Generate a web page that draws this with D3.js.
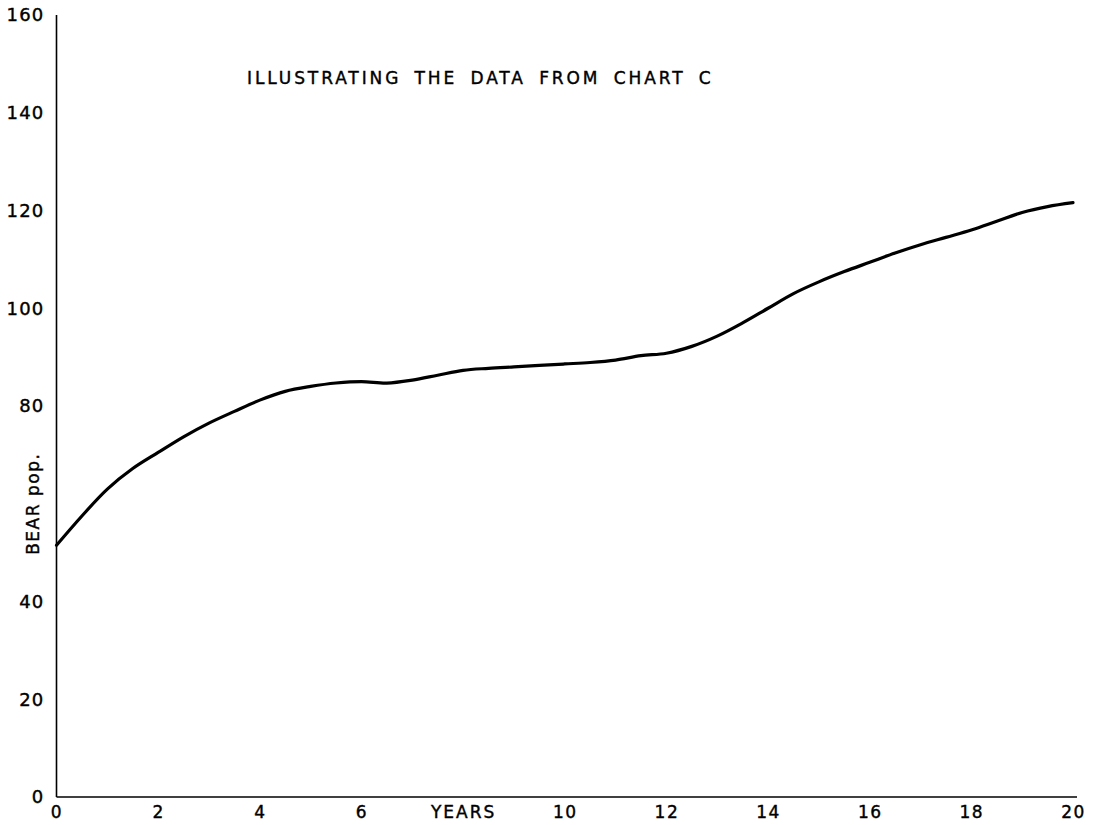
<!DOCTYPE html>
<html>
<head>
<meta charset="utf-8">
<script src="https://cdn.jsdelivr.net/npm/d3@7"></script>
<style>
  html, body { margin: 0; padding: 0; background: #fff; }
  svg { display: block; }
  text { font-family: "DejaVu Sans", sans-serif; fill: #000; stroke: #000; stroke-width: 0.4; }
</style>
</head>
<body>
<script>
// Data
const years = [0,0.5,1,1.5,2,2.5,3,3.5,4,4.5,5,5.5,6,6.5,7,7.5,8,8.5,9,9.5,10,10.5,11,11.5,12,12.5,13,13.5,14,14.5,15,15.5,16,16.5,17,17.5,18,18.5,19,19.5,20];
const bearPop = [51.5,57.5,63,67.2,70.5,73.7,76.5,78.9,81.2,83,84,84.7,85,84.7,85.3,86.3,87.3,87.7,88,88.3,88.6,88.9,89.4,90.3,90.8,92.2,94.3,97,100,103,105.4,107.5,109.4,111.3,113,114.5,116,117.8,119.6,120.8,121.6];
const xTicks = [0,2,4,6,8,10,12,14,16,18,20];
const yTicks = [0,20,40,60,80,100,120,140,160];
const title = "ILLUSTRATING THE DATA FROM CHART C";
const xTitle = "YEARS";
const yTitle = "BEAR pop.";

const W = 1099, H = 825;
const svg = d3.select("body").append("svg").attr("width", W).attr("height", H);

const x = d3.scaleLinear().domain([0, 20]).range([56.5, 1073]);
const y = d3.scaleLinear().domain([0, 160]).range([797, 15]);

// x axis
const xAxis = d3.axisBottom(x)
  .tickValues(xTicks)
  .tickSize(0).tickSizeOuter(0).tickPadding(9)
  .tickFormat(d => d === 8 ? xTitle : d3.format("d")(d));
const gx = svg.append("g").attr("transform", `translate(0,${y(0)})`).call(xAxis);
gx.select(".domain").remove();
gx.selectAll("text").attr("font-size", 17).attr("font-family", "DejaVu Sans")
  .attr("letter-spacing", d => d === 8 ? 2 : 1.5);

// y axis
const yAxis = d3.axisLeft(y)
  .tickValues(yTicks)
  .tickSize(0).tickSizeOuter(0).tickPadding(12)
  .tickFormat(d => d === 60 ? "" : d3.format("d")(d));
const gy = svg.append("g").attr("transform", `translate(${x(0)},0)`).call(yAxis);
gy.select(".domain").remove();
gy.selectAll("text").attr("font-size", 18).attr("font-family", "DejaVu Sans")
  .attr("letter-spacing", 1.2);

// axis lines
svg.append("line")
  .attr("x1", x(0)).attr("x2", x(0))
  .attr("y1", y(160)).attr("y2", y(0))
  .attr("stroke", "#000").attr("stroke-width", 1.6);
svg.append("line")
  .attr("x1", x(0)).attr("x2", x(20) + 4)
  .attr("y1", y(0)).attr("y2", y(0))
  .attr("stroke", "#000").attr("stroke-width", 1.6);

// y title (rotated, in place of the 60 label)
svg.append("text")
  .attr("transform", `translate(${x(0) - 24},${y(60)}) rotate(-90)`)
  .attr("text-anchor", "middle")
  .attr("dominant-baseline", "central")
  .attr("font-size", 17)
  .attr("letter-spacing", 1.5)
  .text(yTitle);

// chart title
svg.append("text")
  .attr("x", 247).attr("y", 84)
  .attr("font-size", 17)
  .attr("letter-spacing", 2.9)
  .attr("word-spacing", 5)
  .text(title);

// curve
const line = d3.line()
  .x((d, i) => x(years[i]))
  .y(d => y(d))
  .curve(d3.curveCatmullRom.alpha(0.5));
svg.append("path")
  .datum(bearPop)
  .attr("d", line)
  .attr("fill", "none")
  .attr("stroke", "#000")
  .attr("stroke-width", 3.2)
  .attr("stroke-linecap", "round")
  .attr("stroke-linejoin", "round");
</script>
</body>
</html>
